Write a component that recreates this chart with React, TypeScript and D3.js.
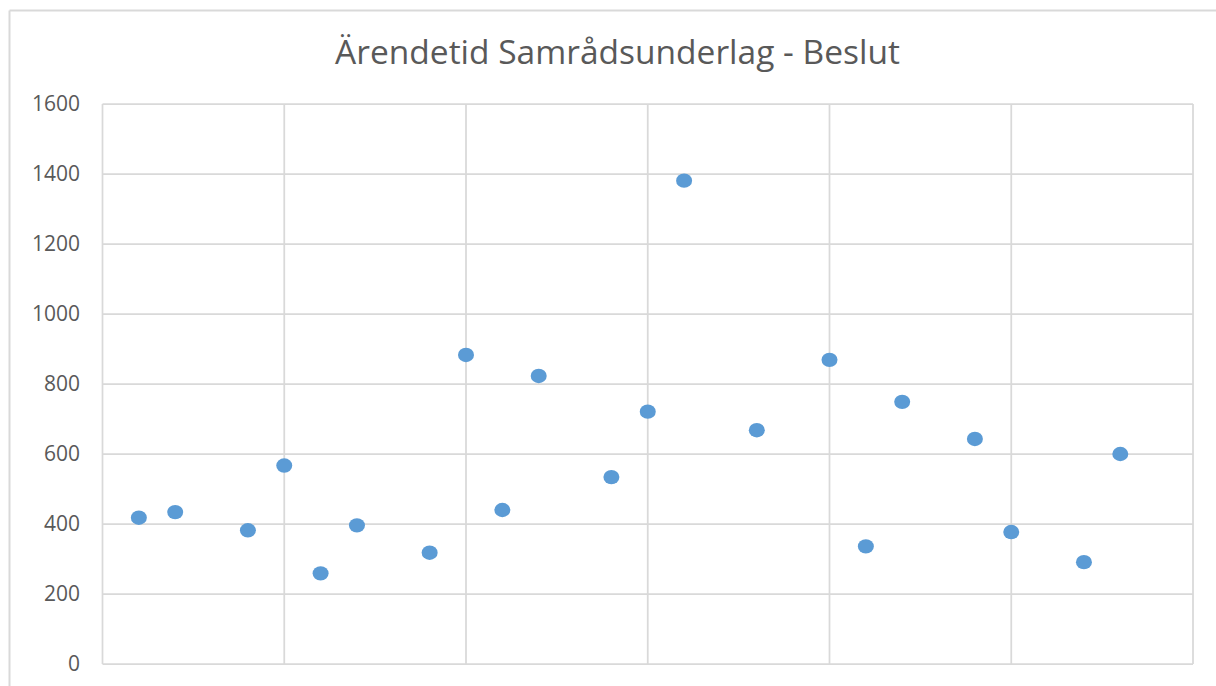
import React from "react";
import * as d3 from "d3";

const title = "Ärendetid Samrådsunderlag - Beslut";
const xValues = [1, 2, 4, 5, 6, 7, 9, 10, 11, 12, 14, 15, 16, 18, 20, 21, 22, 24, 25, 27, 28];
const yValues = [418, 434, 382, 567, 259, 396, 318, 883, 440, 823, 534, 721, 1381, 668, 869, 336, 749, 643, 377, 291, 600];
const yTicks = [0, 200, 400, 600, 800, 1000, 1200, 1400, 1600];
const xTicks = [0, 5, 10, 15, 20, 25, 30];

export default function App() {
  const W = 1216;
  const H = 686;
  const left = 102.5;
  const right = 1193;
  const top = 104;
  const bottom = 664;
  const x = d3.scaleLinear().domain([0, 30]).range([left, right]);
  const y = d3.scaleLinear().domain([0, 1600]).range([bottom, top]);
  const grid = "#d9d9d9";
  const font = "'Open Sans', 'Liberation Sans', sans-serif";

  return (
    <svg
      width={W}
      height={H}
      style={{ position: "absolute", left: 0, top: 0, background: "#fff" }}
    >
      <rect x={0} y={0} width={W} height={H} fill="#fff" />
      {/* outer chart frame */}
      <line x1={9.5} y1={10.5} x2={W} y2={10.5} stroke={grid} strokeWidth={2} />
      <line x1={9.5} y1={10.5} x2={9.5} y2={H} stroke={grid} strokeWidth={2} />

      <text
        x={617.5}
        y={64}
        textAnchor="middle"
        fontFamily={font}
        fontSize={33.5}
        fill="#595959"
      >
        {title}
      </text>

      {yTicks.map((t) => (
        <line
          key={"h" + t}
          x1={left}
          x2={right}
          y1={y(t)}
          y2={y(t)}
          stroke={grid}
          strokeWidth={1.75}
        />
      ))}
      {xTicks.map((t) => (
        <line
          key={"v" + t}
          x1={x(t)}
          x2={x(t)}
          y1={top}
          y2={bottom}
          stroke={grid}
          strokeWidth={1.75}
        />
      ))}

      {yTicks.map((t) => (
        <text
          key={"yl" + t}
          x={80}
          y={y(t)}
          dy="0.35em"
          textAnchor="end"
          fontFamily={font}
          fontSize={21}
          fill="#595959"
        >
          {t}
        </text>
      ))}

      {xValues.map((v, i) => (
        <ellipse
          key={"p" + i}
          cx={x(v)}
          cy={y(yValues[i])}
          rx={8}
          ry={7.2}
          fill="#5b9bd5"
        />
      ))}
    </svg>
  );
}
